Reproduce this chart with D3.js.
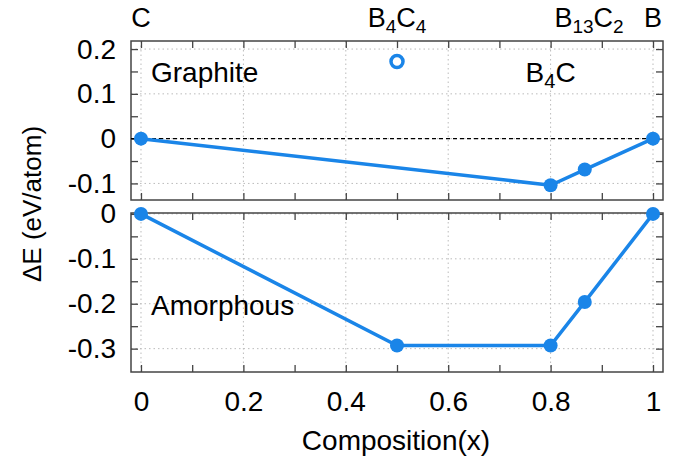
<!DOCTYPE html>
<html>
<head>
<meta charset="utf-8">
<script src="https://cdn.jsdelivr.net/npm/d3@7"></script>
<style>
  body { margin: 0; background: #fff; }
  svg { font-family: "Liberation Sans", Arial, sans-serif; }
</style>
</head>
<body>
<svg id="chart" width="673" height="462"></svg>
<script>
// composition x and formation energies (eV/atom)
var graphiteX = [0, 0.8, 0.8667, 1];
var graphiteE = [0, -0.104, -0.069, 0];
var openX = [0.5];
var openE = [0.172];
var amorphX = [0, 0.5, 0.8, 0.8667, 1];
var amorphE = [0, -0.293, -0.293, -0.196, 0];

var xTicks = [0, 0.1, 0.2, 0.3, 0.4, 0.5, 0.6, 0.7, 0.8, 0.9, 1];
var xLabels = [0, 0.2, 0.4, 0.6, 0.8, 1];
var yTicksTop = [0.2, 0.15, 0.1, 0.05, 0, -0.05, -0.1];
var yLabelsTop = [0.2, 0.1, 0, -0.1];
var yTicksBot = [0, -0.05, -0.1, -0.15, -0.2, -0.25, -0.3];
var yLabelsBot = [0, -0.1, -0.2, -0.3];

var phases = [
  { x: 0, name: "C" },
  { x: 0.5, name: "B<tspan font-size='19' dy='6'>4</tspan><tspan dy='-6'>C</tspan><tspan font-size='19' dy='6'>4</tspan>" },
  { x: 0.875, name: "B<tspan font-size='19' dy='6'>13</tspan><tspan dy='-6'>C</tspan><tspan font-size='19' dy='6'>2</tspan>" },
  { x: 1, name: "B" }
];

var blue = "#1a85e8";
var fs = 28;
var svg = d3.select("#chart");

var x = d3.scaleLinear().domain([-0.0195, 1.0195]).range([131, 663]);
var yTop = d3.scaleLinear().domain([-0.137, 0.218]).range([200, 41]);
var yBot = d3.scaleLinear().domain([-0.352, 0.002]).range([372, 213]);

function fmt(v) {
  return (Math.abs(v) < 1e-9) ? "0" : String(+v.toFixed(2));
}

function panel(y, yTicks, yLabels, showX) {
  var top = y.range()[1], bot = y.range()[0];
  var left = x.range()[0], right = x.range()[1];
  var g = svg.append("g");

  // dotted grid
  g.selectAll(".gx").data(xLabels).enter().append("line")
    .attr("x1", d => x(d)).attr("x2", d => x(d))
    .attr("y1", top).attr("y2", bot)
    .attr("stroke", "#bbb").attr("stroke-width", 1).attr("stroke-dasharray", "1.5,3");
  g.selectAll(".gy").data(yLabels).enter().append("line")
    .attr("x1", left).attr("x2", right)
    .attr("y1", d => y(d)).attr("y2", d => y(d))
    .attr("stroke", "#bbb").attr("stroke-width", 1).attr("stroke-dasharray", "1.5,3");

  var axes = [
    d3.axisLeft(y).tickValues(yTicks).tickSizeInner(-7).tickSizeOuter(0).tickPadding(15)
      .tickFormat(d => yLabels.some(v => Math.abs(v - d) < 1e-9) ? fmt(d) : ""),
    d3.axisRight(y).tickValues(yTicks).tickSizeInner(-7).tickSizeOuter(0).tickFormat(""),
    d3.axisTop(x).tickValues(xTicks).tickSizeInner(-7).tickSizeOuter(0).tickFormat(""),
    d3.axisBottom(x).tickValues(xTicks).tickSizeInner(-7).tickSizeOuter(0).tickPadding(19)
      .tickFormat(d => showX && xLabels.some(v => Math.abs(v - d) < 1e-9) ? fmt(d) : "")
  ];
  var pos = ["translate(" + left + ",0)", "translate(" + right + ",0)",
             "translate(0," + top + ")", "translate(0," + bot + ")"];
  axes.forEach(function (a, i) {
    var ag = g.append("g").attr("transform", pos[i]).call(a);
    ag.select(".domain").remove();
    ag.selectAll("line").attr("stroke", "#444").attr("stroke-width", 1.3);
    ag.selectAll("text").attr("font-size", fs).attr("fill", "#000")
      .attr("font-family", "'Liberation Sans', Arial, sans-serif");
  });

  g.append("rect").attr("x", left).attr("y", top)
    .attr("width", right - left).attr("height", bot - top)
    .attr("fill", "none").attr("stroke", "#444").attr("stroke-width", 1.5);
  return g;
}

var gTop = panel(yTop, yTicksTop, yLabelsTop, false);
var gBot = panel(yBot, yTicksBot, yLabelsBot, true);

// zero reference line in top panel
gTop.append("line")
  .attr("x1", x.range()[0]).attr("x2", x.range()[1])
  .attr("y1", yTop(0)).attr("y2", yTop(0))
  .attr("stroke", "#000").attr("stroke-width", 1.3).attr("stroke-dasharray", "4,3");

function series(g, y, xs, es) {
  var pts = xs.map((d, i) => [d, es[i]]);
  g.append("path").datum(pts)
    .attr("d", d3.line().x(d => x(d[0])).y(d => y(d[1])))
    .attr("fill", "none").attr("stroke", blue).attr("stroke-width", 3.5);
  g.selectAll(".pt").data(pts).enter().append("circle")
    .attr("cx", d => x(d[0])).attr("cy", d => y(d[1])).attr("r", 7)
    .attr("fill", blue);
}
series(gTop, yTop, graphiteX, graphiteE);
series(gBot, yBot, amorphX, amorphE);

gTop.selectAll(".open").data(openX).enter().append("circle")
  .attr("cx", d => x(d)).attr("cy", (d, i) => yTop(openE[i])).attr("r", 6)
  .attr("fill", "#fff").attr("stroke", blue).attr("stroke-width", 3.5);

// panel captions
svg.append("text").attr("x", 151).attr("y", 82).attr("font-size", fs).text("Graphite");
svg.append("text").attr("x", x(0.8)).attr("y", 82).attr("font-size", fs)
  .attr("text-anchor", "middle")
  .html("B<tspan font-size='20' dy='6'>4</tspan><tspan dy='-6'>C</tspan>");
svg.append("text").attr("x", 151).attr("y", 315).attr("font-size", fs).text("Amorphous");

// phase names above the top frame
svg.selectAll(".phase").data(phases).enter().append("text")
  .attr("x", d => x(d.x)).attr("y", 27).attr("font-size", 27)
  .attr("text-anchor", "middle")
  .html(d => d.name);

// axis titles
svg.append("text").attr("x", 396).attr("y", 450).attr("font-size", fs)
  .attr("text-anchor", "middle").text("Composition(x)");
svg.append("text").attr("transform", "translate(41,204) rotate(-90)")
  .attr("font-size", 26).attr("text-anchor", "middle").text("ΔE (eV/atom)");
</script>
</body>
</html>
